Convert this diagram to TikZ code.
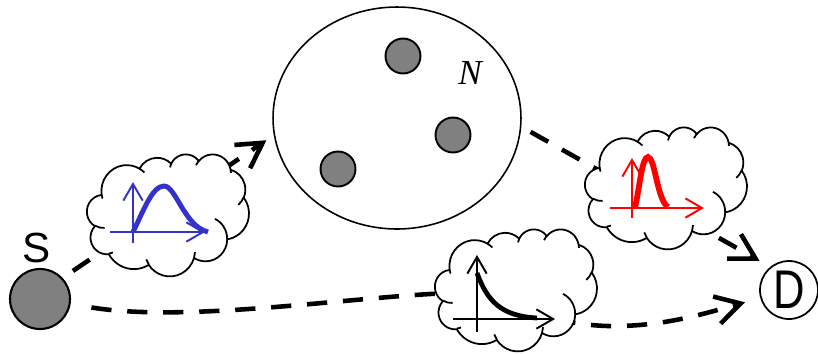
\documentclass[tikz,border=0pt]{standalone}
\usepackage{fontspec}
\setmainfont{Liberation Sans}
\newfontfamily\timesfont{Liberation Serif}
\usepackage{tikz}
\usetikzlibrary{arrows.meta,shapes.geometric}
\definecolor{plotblue}{RGB}{51,51,204}
\definecolor{nodegray}{RGB}{128,128,128}

\begin{document}
\begin{tikzpicture}[x=0.02cm,y=-0.02cm,
    hop/.style={line width=2.6pt,dash pattern=on 11.5pt off 9pt,
      -{Straight Barb[length=14pt,width=16pt]}},
    axis/.style={line width=1.1pt,-{Straight Barb[length=9.5pt,width=11pt]}},
    puff/.style={draw,fill=white,line width=1pt},
    relay/.style={circle,draw,line width=1.1pt,fill=nodegray,
      minimum size=0.7cm,inner sep=0pt}]
  \useasboundingbox (0,0) rectangle (818,353);

  % source, cluster and destination
  \node[circle,draw,line width=1.2pt,fill=nodegray,minimum size=1.2cm] (S) at (40,299) {};
  \node[font=\fontsize{24}{24}\selectfont] (Slab) at (37,248) {S};
  \node[ellipse,draw,line width=0.9pt,minimum width=4.96cm,minimum height=4.44cm] (N) at (397,118) {};
  \node[relay] (n1) at (403,56) {};
  \node[relay] (n2) at (453,135) {};
  \node[relay] (n3) at (338,169) {};
  \node[font=\timesfont\itshape\fontsize{20}{20}\selectfont] (Nlab) at (470,73) {N};
  \node[circle,draw,line width=1pt,minimum size=1.16cm,inner sep=0pt,
    font=\fontsize{31}{31}\selectfont] (D) at (789,290) {\scalebox{0.8}[1]{D}};

  % links
  \draw[hop,shorten <=7pt,shorten >=5pt] (S.43) -- (N.188);
  \draw[hop,shorten <=6pt,shorten >=7pt] (N.-4) -- (D.129);
  \draw[hop,shorten <=12pt,shorten >=9pt] (S) .. controls (180,322) and (330,300) .. (430,294)
    .. controls (500,290) and (540,328) .. (620,326)
    .. controls (670,325) and (710,312) .. (D);

  % channel clouds (box 0..100 in each direction)
  \foreach \cx/\cy in {87/154,585/127,435/229}{
    \begin{scope}[shift={(\cx,\cy)},x=0.0324cm,y=-0.0244cm]
      \path[puff] (9.028,33.264)
        arc[x radius=15.632,y radius=21.273,start angle=-187.748,end angle=-59.636]
        arc[x radius=12.345,y radius=16.822,start angle=-152.025,end angle=-45.453]
        arc[x radius=10.104,y radius=13.762,start angle=-153.481,end angle=-37.324]
        arc[x radius=11.243,y radius=15.266,start angle=-139.692,end angle=-10.212]
        arc[x radius=12.345,y radius=16.836,start angle=-74.768,end angle=23.210]
        arc[x radius=15.683,y radius=21.343,start angle=-37.527,end angle=81.862]
        arc[x radius=13.391,y radius=18.211,start angle=0.460,end angle=121.978]
        arc[x radius=15.630,y radius=21.331,start angle=16.845,end angle=146.250]
        arc[x radius=17.870,y radius=24.405,start angle=58.987,end angle=150.192]
        arc[x radius=10.093,y radius=13.699,start angle=-276.694,end angle=-136.907]
        arc[x radius=10.058,y radius=13.762,start angle=-239.642,end angle=-95.887]
        -- cycle;
      \draw[line width=1pt]
        (10.863,60.595) arc[x radius=10.058,y radius=13.762,start angle=85.547,end angle=120.358]
        (16.037,80.785) arc[x radius=10.093,y radius=13.699,start angle=68.239,end angle=83.306]
        (38.144,90.486) arc[x radius=15.630,y radius=21.331,start angle=146.250,end angle=158.473]
        (66.729,80.442) arc[x radius=15.630,y radius=21.331,start angle=4.738,end angle=16.845]
        (79.002,53.134) arc[x radius=13.391,y radius=18.211,start angle=-64.029,end angle=0.460]
        (96.755,35.542) arc[x radius=12.345,y radius=16.836,start angle=23.210,end angle=49.639]
        (88.713,12.560) arc[x radius=11.243,y radius=15.266,start angle=-10.212,end angle=0.821]
        (67.310,9.148) arc[x radius=11.243,y radius=15.266,start angle=-156.286,end angle=-139.692]
        (51.252,10.926) arc[x radius=10.104,y radius=13.762,start angle=-167.722,end angle=-152.354]
        (32.407,12.019) arc[x radius=15.632,y radius=21.273,start angle=-59.636,end angle=-45.734]
        (9.553,36.549) arc[x radius=15.632,y radius=21.273,start angle=163.194,end angle=172.252];
    \end{scope}
  }

  % blue pdf
  \draw[axis,plotblue] (110,232) -- (205,232);
  \draw[axis,plotblue] (133,243) -- (133,182);
  \draw[plotblue,line width=2.8pt] (133,232) .. controls (143,212) and (152,186) .. (164,186)
    .. controls (176,186) and (184,226) .. (208,232);

  % red pdf
  \draw[axis,red] (610,208) -- (704,208);
  \draw[axis,red] (632,218) -- (632,158);
  \draw[red,line width=3.3pt] (635,208) .. controls (640,185) and (642,157) .. (648,157)
    .. controls (655,157) and (657,200) .. (668,207);

  % black pdf
  \draw[axis] (453,319) -- (555,319);
  \draw[axis] (477,332) -- (477,255);
  \draw[line width=2.7pt] (477,273) .. controls (487,300) and (500,316) .. (537,318);
\end{tikzpicture}
\end{document}
